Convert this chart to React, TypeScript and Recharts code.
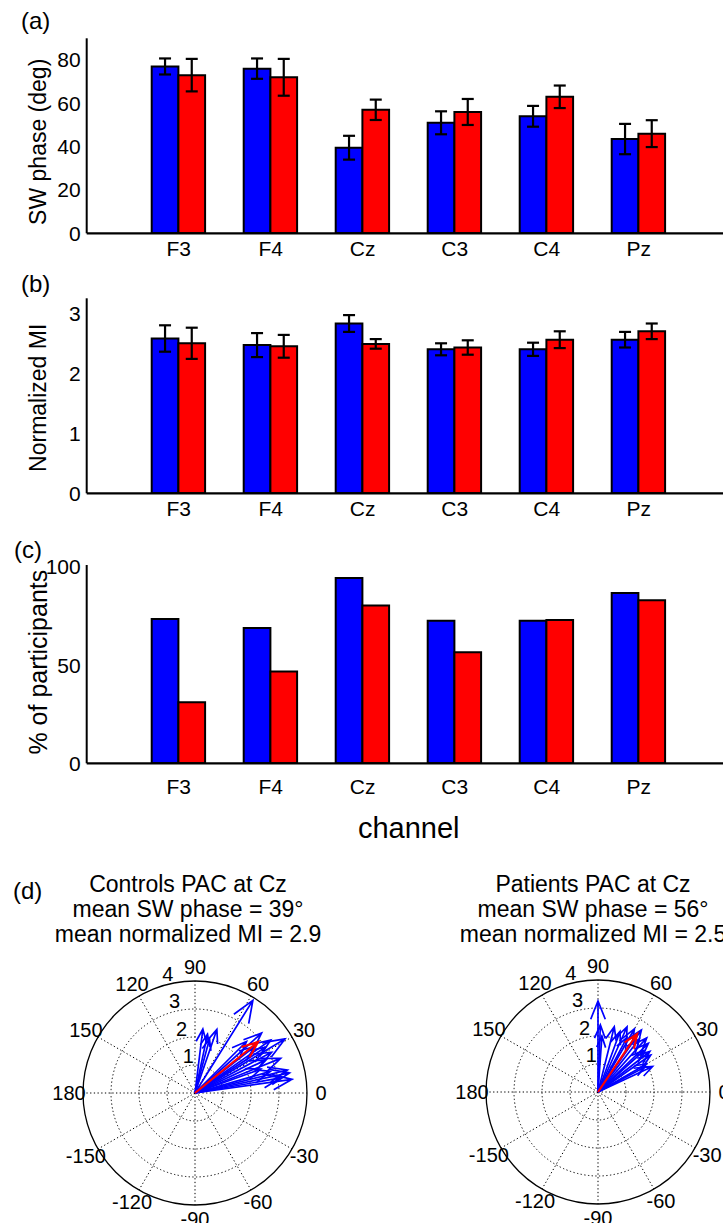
import React from 'react';
import {
  BarChart, Bar, XAxis, YAxis, ErrorBar, Label,
  ScatterChart, Scatter,
  RadarChart, PolarGrid, PolarAngleAxis,
} from 'recharts';

const FONT = '"Liberation Sans", Arial, Helvetica, sans-serif';
const BLUE = '#0000ff';
const RED = '#ff0000';

// ---------- data ----------
const channels = ['F3', 'F4', 'Cz', 'C3', 'C4', 'Pz'];

const phaseControls = [77, 76, 39.5, 51, 54, 43.5];
const phaseControlsErr = [3.7, 4.7, 5.5, 5.3, 4.8, 7];
const phasePatients = [73, 72, 57, 56, 63, 46];
const phasePatientsErr = [7.5, 8.5, 4.7, 6, 5.2, 6.2];

const miControls = [2.58, 2.47, 2.83, 2.4, 2.4, 2.56];
const miControlsErr = [0.22, 0.2, 0.14, 0.1, 0.11, 0.13];
const miPatients = [2.5, 2.45, 2.49, 2.43, 2.56, 2.7];
const miPatientsErr = [0.26, 0.19, 0.08, 0.12, 0.14, 0.13];

const pctControls = [73.5, 68.9, 94.4, 72.6, 72.6, 86.7];
const pctPatients = [31.1, 46.7, 80.4, 56.6, 73, 83];

const phaseTicks = [0, 20, 40, 60, 80];
const miTicks = [0, 1, 2, 3];
const pctTicks = [0, 50, 100];

const angleLabels = ['0', '30', '60', '90', '120', '150', '180', '-150', '-120', '-90', '-60', '-30'];
const radiusTicks = [1, 2, 3, 4];
const radiusLabelAngle = 104;

// controls PAC at Cz: individual vectors (angle deg, normalized MI)
const controlsAngles = [58, 83, 78, 71, 75, 31, 35, 33, 28, 38, 25, 22, 14, 12, 10, 16, 8, 20, 42, 45];
const controlsMags = [3.9, 2.3, 2.15, 2.4, 2.0, 3.75, 3.3, 3.0, 3.1, 2.7, 2.8, 3.3, 3.4, 3.45, 3.1, 2.8, 3.5, 2.5, 3.2, 2.6];
const controlsMeanAngle = 39;
const controlsMeanMag = 2.9;

// patients PAC at Cz
const patientsAngles = [90, 88, 86, 76, 70, 66, 60, 55, 52, 48, 44, 42, 38, 35, 30, 25, 28, 62];
const patientsMags = [3.25, 2.4, 2.0, 2.4, 2.3, 2.55, 2.6, 2.7, 2.4, 2.6, 2.5, 2.2, 2.35, 2.3, 2.0, 2.15, 1.9, 2.2];
const patientsMeanAngle = 56;
const patientsMeanMag = 2.5;

// ---------- helpers ----------
const buildBarData = (c: number[], ce: number[] | null, p: number[], pe: number[] | null) =>
  channels.map((ch, i) => ({
    channel: ch,
    controls: c[i],
    controlsErr: ce ? ce[i] : 0,
    patients: p[i],
    patientsErr: pe ? pe[i] : 0,
  }));

const phaseData = buildBarData(phaseControls, phaseControlsErr, phasePatients, phasePatientsErr);
const miData = buildBarData(miControls, miControlsErr, miPatients, miPatientsErr);
const pctData = buildBarData(pctControls, null, pctPatients, null);

// MATLAB compass arrow: [0, 1, .8+.08i, 1, .8-.08i] * z
function arrowPoints(angleDeg: number, mag: number) {
  const t = (angleDeg * Math.PI) / 180;
  const x = mag * Math.cos(t);
  const y = mag * Math.sin(t);
  const shape = [[0, 0], [1, 0], [0.8, 0.08], [1, 0], [0.8, -0.08]];
  return shape.map(([a, b]) => ({ x: a * x - b * y, y: a * y + b * x }));
}

const radiusLabelData = radiusTicks.map((r) => {
  const t = (radiusLabelAngle * Math.PI) / 180;
  return { x: r * Math.cos(t), y: r * Math.sin(t), label: String(r) };
});

const tickStyle = { fill: '#000', fontSize: 21, fontFamily: FONT };

type BarPanelProps = {
  top: number;
  height: number;
  marginTop: number;
  data: any[];
  domain: [number, number];
  ticks: number[];
  yLabel: string;
  yLabelSize: number;
  yLabelShift: number;
  xTickMargin: number;
  withErrors: boolean;
  xLabel?: string;
};

function BarPanel(props: BarPanelProps) {
  const { top, height, marginTop, data, domain, ticks, yLabel, yLabelSize, yLabelShift, xTickMargin, withErrors, xLabel } = props;
  const chartW = 740;
  const plotBottom = 233.3;
  const xAxisH = height - plotBottom;
  return (
    <div style={{ position: 'absolute', left: 0, top, width: chartW, height }}>
      <BarChart
        width={chartW}
        height={height}
        data={data}
        margin={{ top: marginTop, right: chartW - 730.7, left: 0, bottom: 0 }}
        barGap={0}
        barSize={26.7}
      >
        <XAxis
          dataKey="channel"
          type="category"
          interval={0}
          padding={{ left: 46, right: 46 }}
          axisLine={{ stroke: '#000', strokeWidth: 2.2 }}
          tickLine={false}
          tick={tickStyle}
          tickMargin={xTickMargin}
          height={xAxisH}
        >
          {xLabel ? (
            <Label
              content={(p: any) => {
                const vb = p.viewBox || {};
                return (
                  <text
                    x={(vb.x || 0) + (vb.width || 0) / 2}
                    y={308}
                    textAnchor="middle"
                    fontSize={29}
                    fontFamily={FONT}
                    fill="#000"
                  >
                    {xLabel}
                  </text>
                );
              }}
            />
          ) : null}
        </XAxis>
        <YAxis
          type="number"
          domain={domain}
          ticks={ticks}
          allowDataOverflow
          width={86.7}
          axisLine={{ stroke: '#000', strokeWidth: 2 }}
          tickLine={false}
          tick={tickStyle}
          tickMargin={0}
        >
          <Label
            content={(p: any) => {
              const vb = p.viewBox || {};
              const cy = (vb.y || 0) + (vb.height || 0) / 2 + yLabelShift;
              return (
                <text
                  x={38}
                  y={cy}
                  transform={`rotate(-90 38 ${cy})`}
                  textAnchor="middle"
                  dominantBaseline="central"
                  fontSize={yLabelSize}
                  fontFamily={FONT}
                  fill="#000"
                >
                  {yLabel}
                </text>
              );
            }}
          />
        </YAxis>
        <Bar dataKey="controls" fill={BLUE} stroke="#000" strokeWidth={2} isAnimationActive={false}>
          {withErrors ? <ErrorBar dataKey="controlsErr" width={6} stroke="#000" strokeWidth={2.2} direction="y" /> : null}
        </Bar>
        <Bar dataKey="patients" fill={RED} stroke="#000" strokeWidth={2} isAnimationActive={false}>
          {withErrors ? <ErrorBar dataKey="patientsErr" width={6} stroke="#000" strokeWidth={2.2} direction="y" /> : null}
        </Bar>
      </BarChart>
    </div>
  );
}

const angleData = angleLabels.map((l) => ({ label: l }));

type PolarProps = {
  cx: number;
  cy: number;
  angles: number[];
  mags: number[];
  meanAngle: number;
  meanMag: number;
};

function PolarPanel({ cx, cy, angles, mags, meanAngle, meanMag }: PolarProps) {
  const R = 112;
  const box = 320;
  const c = box / 2;
  const rMax = 4;
  const dom = (rMax * c) / R;
  const arrows = angles.map((a, i) => arrowPoints(a, mags[i]));
  const meanArrow = arrowPoints(meanAngle, meanMag);

  const renderAngleTick = (p: any) => {
    const v = p.payload ? p.payload.value : '';
    const ang = (parseFloat(v) * Math.PI) / 180;
    const rr = 126;
    const x = c + rr * Math.cos(ang);
    const y = c - rr * Math.sin(ang);
    return (
      <text x={x} y={y} textAnchor="middle" dominantBaseline="central" fontSize={20} fontFamily={FONT} fill="#000">
        {v}
      </text>
    );
  };

  const renderRadiusLabel = (p: any) => {
    const lab = p.payload ? p.payload.label : '';
    return (
      <text x={p.cx} y={p.cy - 10} textAnchor="middle" dominantBaseline="central" fontSize={20} fontFamily={FONT} fill="#000">
        {lab}
      </text>
    );
  };

  return (
    <>
      <div style={{ position: 'absolute', left: cx - c, top: cy - c, width: box, height: box }}>
        <RadarChart
          width={box}
          height={box}
          cx={c}
          cy={c}
          outerRadius={R}
          startAngle={0}
          endAngle={360}
          data={angleData}
          margin={{ top: 0, right: 0, bottom: 0, left: 0 }}
        >
          <PolarGrid gridType="circle" polarRadius={[28, 56, 84]} stroke="#000" strokeWidth={1} strokeDasharray="1.3 2.4" />
          <PolarAngleAxis
            dataKey="label"
            axisLineType="circle"
            axisLine={{ stroke: '#000', strokeWidth: 1.3 }}
            tickLine={false}
            tick={renderAngleTick}
          />
        </RadarChart>
      </div>
      <div style={{ position: 'absolute', left: cx - c, top: cy - c, width: box, height: box }}>
        <ScatterChart width={box} height={box} margin={{ top: 0, right: 0, bottom: 0, left: 0 }}>
          <XAxis type="number" dataKey="x" domain={[-dom, dom]} hide allowDataOverflow />
          <YAxis type="number" dataKey="y" domain={[-dom, dom]} hide allowDataOverflow />
          <Scatter data={radiusLabelData} shape={renderRadiusLabel} isAnimationActive={false} />
          {arrows.map((pts, i) => (
            <Scatter
              key={i}
              data={pts}
              line={{ stroke: BLUE, strokeWidth: 1.7 }}
              lineType="joint"
              shape={() => <g />}
              isAnimationActive={false}
            />
          ))}
          <Scatter
            data={meanArrow}
            line={{ stroke: RED, strokeWidth: 2.2 }}
            lineType="joint"
            shape={() => <g />}
            isAnimationActive={false}
          />
        </ScatterChart>
      </div>
    </>
  );
}

const panelLetter = (text: string, left: number, centerY: number) => (
  <div
    style={{
      position: 'absolute',
      left,
      top: centerY - 13,
      fontFamily: FONT,
      fontSize: 24,
      lineHeight: '26px',
      color: '#000',
      whiteSpace: 'nowrap',
    }}
  >
    {text}
  </div>
);

const titleBlock = (lines: string[], centerX: number, firstCenterY: number) => (
  <div
    style={{
      position: 'absolute',
      left: centerX - 200,
      width: 400,
      top: firstCenterY - 12.5,
      textAlign: 'center',
      fontFamily: FONT,
      fontSize: 23,
      lineHeight: '25px',
      color: '#000',
      whiteSpace: 'nowrap',
    }}
  >
    {lines.map((l, i) => (
      <div key={i}>{l}</div>
    ))}
  </div>
);

export default function App() {
  return (
    <div
      style={{
        position: 'absolute',
        left: 0,
        top: 0,
        width: 723,
        height: 1223,
        overflow: 'hidden',
        background: '#fff',
      }}
    >
      <BarPanel
        top={0}
        height={270}
        marginTop={38.3}
        data={phaseData}
        domain={[0, 90]}
        ticks={phaseTicks}
        yLabel="SW phase (deg)"
        yLabelSize={23}
        yLabelShift={6}
        xTickMargin={2}
        withErrors
      />
      <BarPanel
        top={260}
        height={270}
        marginTop={38.3}
        data={miData}
        domain={[0, 3.25]}
        ticks={miTicks}
        yLabel="Normalized MI"
        yLabelSize={23}
        yLabelShift={2}
        xTickMargin={2}
        withErrors
      />
      <BarPanel
        top={530}
        height={320}
        marginTop={35}
        data={pctData}
        domain={[0, 101]}
        ticks={pctTicks}
        yLabel="% of participants"
        yLabelSize={25}
        yLabelShift={-2}
        xTickMargin={10}
        withErrors={false}
        xLabel="channel"
      />

      {panelLetter('(a)', 21, 21)}
      {panelLetter('(b)', 21, 284)}
      {panelLetter('(c)', 14, 550)}
      {panelLetter('(d)', 13, 891)}

      {titleBlock(['Controls PAC at Cz', 'mean SW phase = 39°', 'mean normalized MI = 2.9'], 188, 884)}
      {titleBlock(['Patients PAC at Cz', 'mean SW phase = 56°', 'mean normalized MI = 2.5'], 593, 884)}

      <PolarPanel
        cx={195}
        cy={1093}
        angles={controlsAngles}
        mags={controlsMags}
        meanAngle={controlsMeanAngle}
        meanMag={controlsMeanMag}
      />
      <PolarPanel
        cx={598}
        cy={1092}
        angles={patientsAngles}
        mags={patientsMags}
        meanAngle={patientsMeanAngle}
        meanMag={patientsMeanMag}
      />
    </div>
  );
}
